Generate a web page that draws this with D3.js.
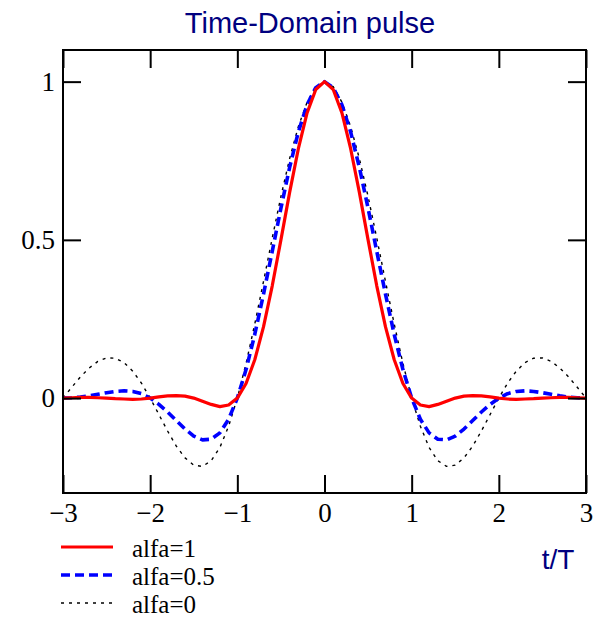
<!DOCTYPE html>
<html>
<head>
<meta charset="utf-8">
<script src="https://cdn.jsdelivr.net/npm/d3@7"></script>
<style>
  body { margin: 0; background: #fff; }
  svg text { font-family: "Liberation Serif", "Times New Roman", serif; }
</style>
</head>
<body>
<svg id="chart" width="607" height="632"></svg>
<script>
// t/T sample points
const tValues = [
  -3.0, -2.9, -2.8, -2.7, -2.6, -2.5, -2.4, -2.3, -2.2, -2.1,
  -2.0, -1.9, -1.8, -1.7, -1.6, -1.5, -1.4, -1.3, -1.2, -1.1,
  -1.0, -0.9, -0.8, -0.7, -0.6, -0.5, -0.4, -0.3, -0.2, -0.1,
  0.0, 0.1, 0.2, 0.3, 0.4, 0.5, 0.6, 0.7, 0.8, 0.9,
  1.0, 1.1, 1.2, 1.3, 1.4, 1.5, 1.6, 1.7, 1.8, 1.9,
  2.0, 2.1, 2.2, 2.3, 2.4, 2.5, 2.6, 2.7, 2.8, 2.9, 3.0
];

// alfa = 1
const pulseAlfa1 = [
  0.000, 0.001, 0.002, 0.002, 0.001, 0.000, -0.002, -0.003, -0.004, -0.003,
  0.000, 0.004, 0.007, 0.008, 0.006, 0.000, -0.010, -0.020, -0.027, -0.022,
  0.000, 0.046, 0.121, 0.225, 0.354, 0.500, 0.650, 0.788, 0.901, 0.975,
  1.000, 0.975, 0.901, 0.788, 0.650, 0.500, 0.354, 0.225, 0.121, 0.046,
  0.000, -0.022, -0.027, -0.020, -0.010, 0.000, 0.006, 0.008, 0.007, 0.004,
  0.000, -0.003, -0.004, -0.003, -0.002, 0.000, 0.001, 0.002, 0.002, 0.001, 0.000
];

// alfa = 0.5
const pulseAlfa05 = [
  0.000, 0.001, 0.003, 0.007, 0.012, 0.017, 0.021, 0.023, 0.021, 0.014,
  0.000, -0.020, -0.044, -0.071, -0.098, -0.120, -0.132, -0.130, -0.110, -0.067,
  0.000, 0.090, 0.201, 0.328, 0.463, 0.600, 0.729, 0.841, 0.927, 0.981,
  1.000, 0.981, 0.927, 0.841, 0.729, 0.600, 0.463, 0.328, 0.201, 0.090,
  0.000, -0.067, -0.110, -0.130, -0.132, -0.120, -0.098, -0.071, -0.044, -0.020,
  0.000, 0.014, 0.021, 0.023, 0.021, 0.017, 0.012, 0.007, 0.003, 0.001, 0.000
];

// alfa = 0
const pulseAlfa0 = [
  0.000, 0.034, 0.067, 0.095, 0.116, 0.127, 0.126, 0.112, 0.085, 0.047,
  0.000, -0.052, -0.104, -0.152, -0.189, -0.212, -0.216, -0.198, -0.156, -0.089,
  0.000, 0.109, 0.234, 0.368, 0.505, 0.637, 0.757, 0.858, 0.935, 0.984,
  1.000, 0.984, 0.935, 0.858, 0.757, 0.637, 0.505, 0.368, 0.234, 0.109,
  0.000, -0.089, -0.156, -0.198, -0.216, -0.212, -0.189, -0.152, -0.104, -0.052,
  0.000, 0.047, 0.085, 0.112, 0.126, 0.127, 0.116, 0.095, 0.067, 0.034, 0.000
];

const xTicks = [-3, -2, -1, 0, 1, 2, 3];
const yTicks = [0, 0.5, 1];
const seriesNames = ['alfa=1', 'alfa=0.5', 'alfa=0'];

const svg = d3.select('#chart');
const plotLeft = 63, plotRight = 586, plotTop = 50, plotBottom = 493;

const x = d3.scaleLinear().domain([-3, 3]).range([plotLeft, plotRight]);
const y = d3.scaleLinear().domain([-0.3, 1.1]).range([plotBottom, plotTop]);

const series = [
  { name: seriesNames[0], values: pulseAlfa1, color: '#ff0000', width: 3.2, dash: null },
  { name: seriesNames[1], values: pulseAlfa05, color: '#0000ff', width: 3.6, dash: '9,5' },
  { name: seriesNames[2], values: pulseAlfa0, color: '#000000', width: 1.4, dash: '3,5' },
];

// title
svg.append('text')
  .attr('x', 310)
  .attr('y', 33)
  .attr('text-anchor', 'middle')
  .style('font-family', '"Liberation Sans", Arial, sans-serif')
  .style('font-size', '29px')
  .attr('fill', '#000080')
  .text('Time-Domain pulse');

// curves (drawn first, frame on top)
const line = d3.line()
  .x((d, i) => x(tValues[i]))
  .y((d) => y(d));

// black dotted under blue under red
[series[2], series[1], series[0]].forEach((s) => {
  svg.append('path')
    .datum(s.values)
    .attr('d', line)
    .attr('fill', 'none')
    .attr('stroke', s.color)
    .attr('stroke-width', s.width)
    .attr('stroke-dasharray', s.dash)
    .attr('stroke-linejoin', 'round');
});

// axes with inward ticks
const fmt = d3.format('');
const bottomAxis = svg.append('g')
  .attr('transform', `translate(0,${plotBottom})`)
  .call(d3.axisBottom(x).tickValues(xTicks).tickSizeInner(-18).tickSizeOuter(0).tickPadding(10).tickFormat(fmt));
const topAxis = svg.append('g')
  .attr('transform', `translate(0,${plotTop})`)
  .call(d3.axisTop(x).tickValues(xTicks).tickSizeInner(-18).tickSizeOuter(0).tickFormat(''));
const leftAxis = svg.append('g')
  .attr('transform', `translate(${plotLeft},0)`)
  .call(d3.axisLeft(y).tickValues(yTicks).tickSizeInner(-18).tickSizeOuter(0).tickPadding(8).tickFormat(fmt));
const rightAxis = svg.append('g')
  .attr('transform', `translate(${plotRight},0)`)
  .call(d3.axisRight(y).tickValues(yTicks).tickSizeInner(-18).tickSizeOuter(0).tickFormat(''));

[bottomAxis, topAxis, leftAxis, rightAxis].forEach((g) => {
  g.select('.domain').remove();
  g.selectAll('.tick line').attr('stroke', '#000').attr('stroke-width', 2);
  g.selectAll('.tick text')
    .attr('fill', '#000')
    .style('font-family', '"Liberation Serif", "Times New Roman", serif')
    .style('font-size', '27px');
});

// frame
svg.append('rect')
  .attr('x', plotLeft)
  .attr('y', plotTop)
  .attr('width', plotRight - plotLeft)
  .attr('height', plotBottom - plotTop)
  .attr('fill', 'none')
  .attr('stroke', '#000')
  .attr('stroke-width', 2);

// x-axis title
svg.append('text')
  .attr('x', 558)
  .attr('y', 569)
  .attr('text-anchor', 'middle')
  .style('font-family', '"Liberation Sans", Arial, sans-serif')
  .style('font-size', '28px')
  .attr('fill', '#000080')
  .text('t/T');

// legend
const legend = svg.append('g').attr('transform', 'translate(61,547)');
series.forEach((s, i) => {
  const row = legend.append('g').attr('transform', `translate(0,${i * 28})`);
  row.append('line')
    .attr('x1', 0)
    .attr('x2', 52)
    .attr('y1', 0)
    .attr('y2', 0)
    .attr('stroke', s.color)
    .attr('stroke-width', s.width)
    .attr('stroke-dasharray', s.dash);
  row.append('text')
    .attr('x', 71)
    .attr('y', 10)
    .style('font-size', '25px')
    .attr('fill', '#000')
    .text(s.name);
});
</script>
</body>
</html>
